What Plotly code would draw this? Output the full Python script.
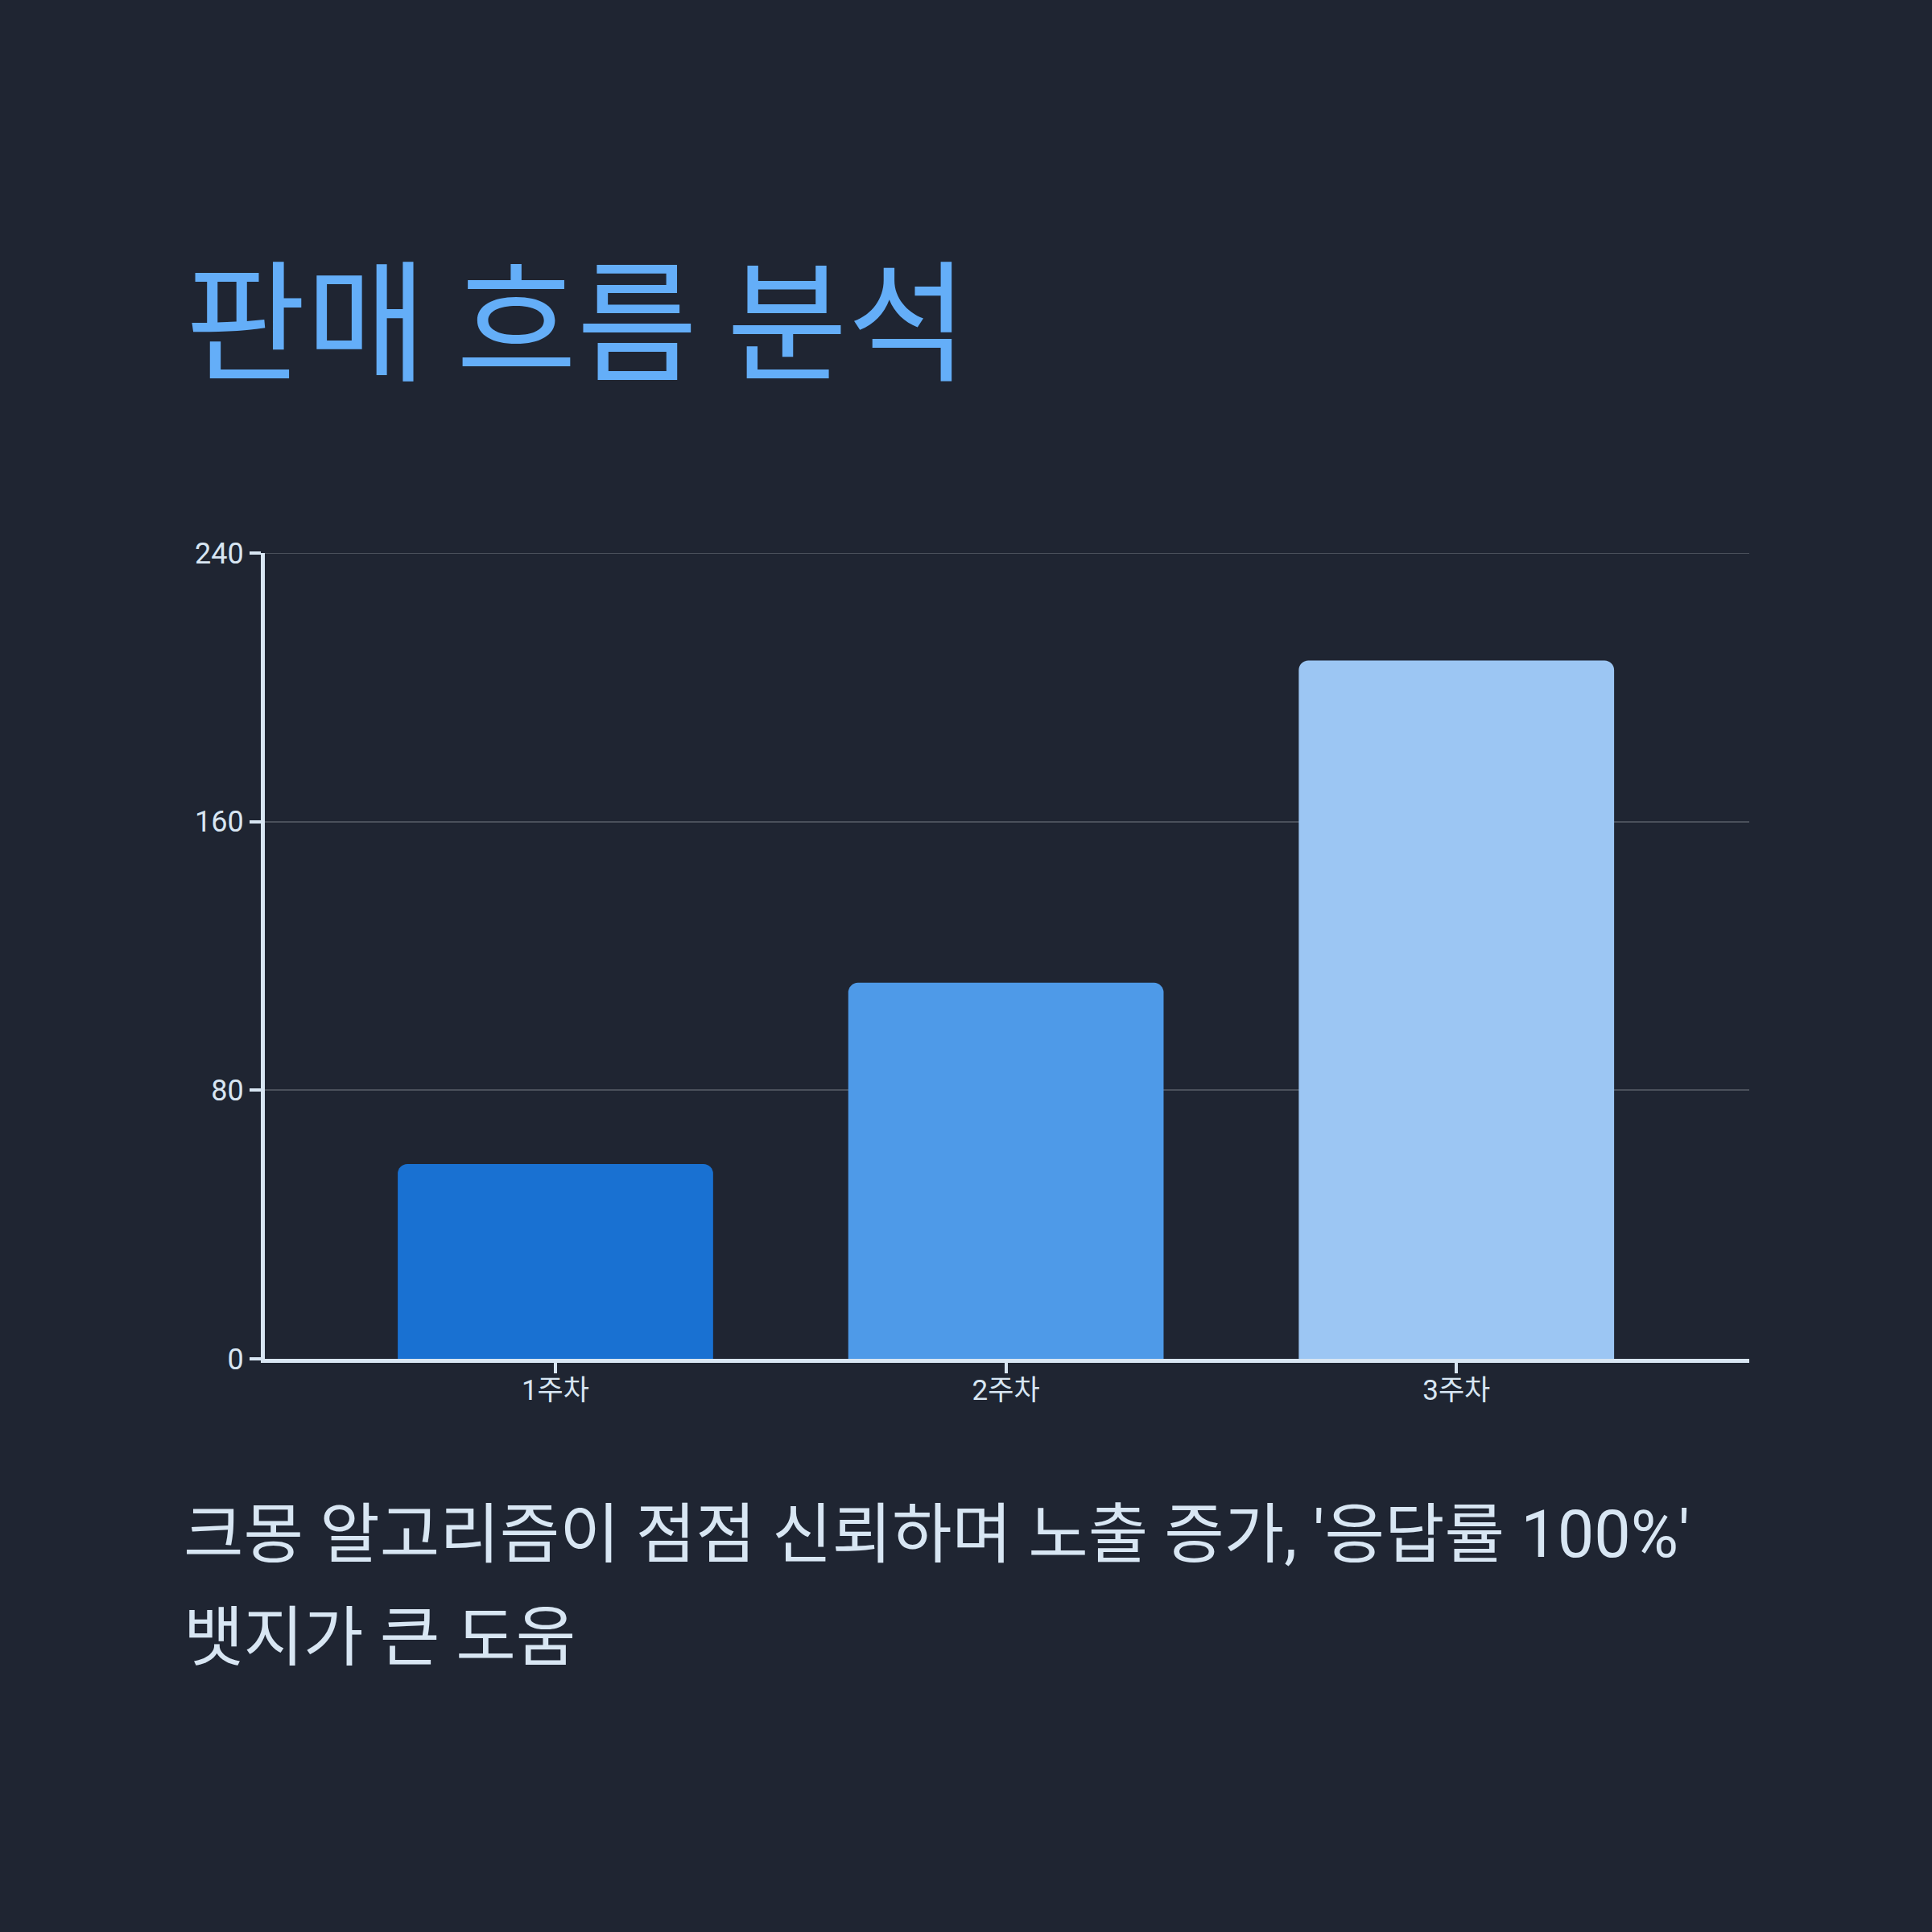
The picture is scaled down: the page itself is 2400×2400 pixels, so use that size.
import plotly.graph_objects as go

# 데이터
weeks = ['1주차', '2주차', '3주차']
sales = [58, 112, 208]
bar_colors = ['#1971d2', '#4e9ae8', '#9cc6f3']
y_ticks = [0, 80, 160, 240]

title_text = '판매 흐름 분석'
caption_lines = ["크몽 알고리즘이 점점 신뢰하며 노출 증가, '응답률 100%'", '뱃지가 큰 도움']

bg = '#1f2532'
light = '#d8e6f3'
grid = '#4a505b'
font_family = "Roboto, 'Noto Sans CJK KR', sans-serif"

# plot area in page pixels
L, R, T, B = 329, 2173, 687, 1688
W = H = 2400


def px_x(p):
    return (p - L) / (R - L)


def px_y(p):
    return (B - p) / (B - T)


fig = go.Figure()
fig.add_trace(go.Bar(
    x=weeks,
    y=sales,
    width=0.7,
    marker=dict(color=bar_colors, line=dict(width=0), cornerradius=12),
    hoverinfo='x+y'
))

fig.update_layout(
    width=W,
    height=H,
    paper_bgcolor=bg,
    plot_bgcolor=bg,
    margin=dict(l=L, r=W - R, t=T, b=H - B, pad=0),
    showlegend=False,
    font=dict(family=font_family, color=light, size=36),
    xaxis=dict(
        range=[-0.645, 2.65],
        showgrid=False,
        showline=True,
        linecolor=light,
        linewidth=5,
        ticks='outside',
        ticklen=13,
        tickwidth=4,
        tickcolor=light,
        tickfont=dict(size=35, color=light),
        ticklabelstandoff=-9,
        zeroline=False,
    ),
    yaxis=dict(
        range=[0, 240],
        tickvals=y_ticks,
        showgrid=True,
        gridcolor=grid,
        gridwidth=2,
        showline=True,
        linecolor=light,
        linewidth=5,
        ticks='outside',
        ticklen=14,
        tickwidth=4,
        tickcolor=light,
        tickfont=dict(size=36, color=light),
        zeroline=False,
    ),
)

# top gridline at the range edge (plotly skips it)
fig.add_hline(y=y_ticks[-1], line=dict(color=grid, width=2), layer='below')

fig.add_annotation(
    text=title_text,
    xref='paper', yref='paper',
    x=px_x(228), y=px_y(389),
    xanchor='left', yanchor='middle',
    showarrow=False,
    font=dict(size=163, color='#64aef8', family="'Noto Sans CJK KR', sans-serif"),
)

for i, line in enumerate(caption_lines):
    fig.add_annotation(
        text=line,
        xref='paper', yref='paper',
        x=px_x(226), y=px_y(1906 + i * 128),
        xanchor='left', yanchor='middle',
        showarrow=False,
        font=dict(size=81, color=light, family=font_family),
    )

fig.write_html("out.html", config={'displayModeBar': False},
               post_script="document.body.style.margin='0';")
